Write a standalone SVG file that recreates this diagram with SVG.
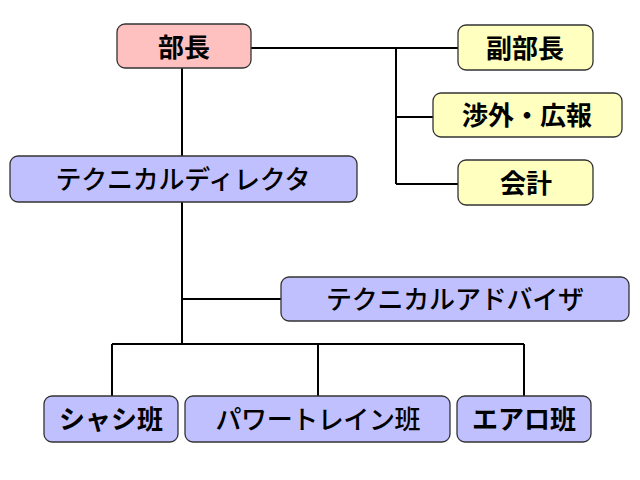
<svg xmlns="http://www.w3.org/2000/svg" width="640" height="480" viewBox="0 0 640 480">
<style>
.box{stroke:#333;stroke-width:1.3}
.pink{fill:#FFC0C0}
.yel{fill:#FFFFC0}
.blue{fill:#C0C0FF}
.t{font-family:"Noto Sans CJK JP","Noto Sans CJK SC",sans-serif;font-size:26px;text-anchor:middle;fill:#000;font-weight:500}
.b{font-weight:bold}
.ln{stroke:#000;stroke-width:2;fill:none}
</style>
<rect width="640" height="480" fill="#fff"/>
<g id="connectors">
<path class="ln" d="M182 68V156M251 48H458M396 48V184M396 117H433M396 184H458M182 202V344M182 299H281M112 344H524M112 344V396M318 344V396M524 344V396"/>
</g>
<g id="bucho"><rect class="box pink" x="117" y="24" width="134" height="44" rx="8"/><text class="t b" x="184" y="57">部長</text></g>
<g id="fukubucho"><rect class="box yel" x="458" y="25" width="135" height="45" rx="8"/><text class="t b" x="525" y="58">副部長</text></g>
<g id="shogai"><rect class="box yel" x="433" y="93" width="189" height="44" rx="8"/><text class="t b" x="527" y="125">渉外・広報</text></g>
<g id="kaikei"><rect class="box yel" x="458" y="160" width="135" height="45" rx="8"/><text class="t b" x="526" y="193">会計</text></g>
<g id="director"><rect class="box blue" x="10" y="156" width="347" height="46" rx="8"/><text class="t" x="183" y="189" textLength="255">テクニカルディレクタ</text></g>
<g id="advisor"><rect class="box blue" x="281" y="277" width="348" height="44" rx="8"/><text class="t" x="455" y="309" textLength="258">テクニカルアドバイザ</text></g>
<g id="chassis"><rect class="box blue" x="44" y="396" width="134" height="46" rx="8"/><text class="t b" x="111" y="429">シャシ班</text></g>
<g id="powertrain"><rect class="box blue" x="185" y="396" width="265" height="46" rx="8"/><text class="t" x="318" y="429" textLength="205">パワートレイン班</text></g>
<g id="aero"><rect class="box blue" x="457" y="396" width="134" height="46" rx="8"/><text class="t b" x="524" y="429">エアロ班</text></g>
</svg>
